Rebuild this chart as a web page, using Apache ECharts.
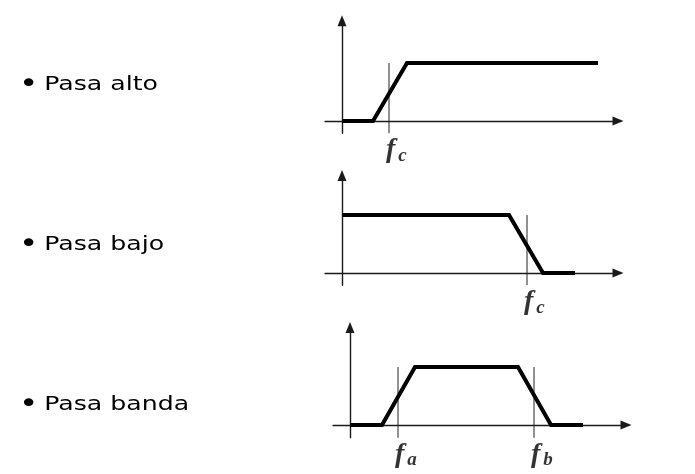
<!DOCTYPE html>
<html>
<head>
<meta charset="utf-8">
<script src="https://cdn.jsdelivr.net/npm/echarts@6/dist/echarts.min.js"></script>
<style>html,body{margin:0;padding:0;background:#fff}#c{width:695px;height:474px}</style>
</head>
<body>
<div id="c"></div>
<script>
// Filter names (left-hand bullet labels)
const filterNames = ['Pasa alto', 'Pasa bajo', 'Pasa banda'];

// High-pass response (x in frequency units, y normalized gain)
const hpX = [0, 3.1, 6.5, 25.6];
const hpY = [0, 0, 1, 1];
// Low-pass response
const lpX = [0, 16.7, 20.1, 23.3];
const lpY = [1, 1, 0, 0];
// Band-pass response
const bpX = [0, 3.2, 6.5, 16.8, 20.1, 23.3];
const bpY = [0, 0, 1, 1, 0, 0];

// Cut-off frequencies and their subscripts
const hpCut = [4.7];   const hpSub = ['c'];
const lpCut = [18.5];  const lpSub = ['c'];
const bpCut = [4.8, 18.4]; const bpSub = ['a', 'b'];

const xMin = -1.7, xMax = 27.6;
const yMins = [-0.21, -0.21, -0.22];
const yMaxs = [1.73, 1.68, 1.68];

const chart = echarts.init(document.getElementById('c'), null, {renderer: 'canvas'});

const grids = [
  {left: 325, top: 20.7, width: 293, height: 112.5},
  {left: 325, top: 175.6, width: 293, height: 109.6},
  {left: 333, top: 327.6, width: 293, height: 110.2}
];

const axisLine = {
  show: true, onZero: true,
  symbol: ['none', 'triangle'], symbolSize: [9, 11],
  lineStyle: {color: '#1a1a1a', width: 1.4}
};

const xAxes = grids.map((g, i) => ({
  type: 'value', gridIndex: i, min: xMin, max: xMax,
  axisLine: axisLine, axisTick: {show: false}, axisLabel: {show: false}, splitLine: {show: false}
}));
const yAxes = grids.map((g, i) => ({
  type: 'value', gridIndex: i, min: yMins[i], max: yMaxs[i],
  axisLine: axisLine, axisTick: {show: false}, axisLabel: {show: false}, splitLine: {show: false}
}));

const responses = [[hpX, hpY], [lpX, lpY], [bpX, bpY]];
const cuts = [[hpCut, hpSub], [lpCut, lpSub], [bpCut, bpSub]];

const series = [];
responses.forEach(([xs, ys], i) => {
  series.push({
    type: 'line', xAxisIndex: i, yAxisIndex: i, symbol: 'none', animation: false,
    lineStyle: {color: '#000', width: 4, join: 'miter'},
    data: xs.map((x, k) => [x, ys[k]]), z: 5
  });
});
cuts.forEach(([cs, subs], i) => {
  cs.forEach((c) => {
    series.push({
      type: 'line', xAxisIndex: i, yAxisIndex: i, symbol: 'none', animation: false,
      lineStyle: {color: '#222', width: 1},
      data: [[c, 1], [c, yMins[i]]], z: 3
    });
  });
  series.push({
    type: 'scatter', xAxisIndex: i, yAxisIndex: i, symbolSize: 0, animation: false,
    data: cs.map((c, k) => ({value: [c, yMins[i]], sub: subs[k]})),
    label: {
      show: true, position: [-3, 1], align: 'left', verticalAlign: 'top',
      formatter: (p) => '{f|f}{s|' + p.data.sub + '}',
      rich: {
        f: {fontFamily: 'Liberation Serif', fontStyle: 'italic', fontWeight: 'bold', fontSize: 28, color: '#000', padding: [0, 3, 0, 0]},
        s: {fontFamily: 'Liberation Serif', fontStyle: 'italic', fontWeight: 'bold', fontSize: 19, color: '#000', verticalAlign: 'bottom', padding: [12, 0, 0, 0]}
      }
    }
  });
});

const labelY = [85, 245, 405];
const graphic = filterNames.map((name, i) => ({
  type: 'text', x: 19, y: labelY[i], scaleX: 1.26,
  style: {
    text: '{b|\u2022}' + name, font: '20px "DejaVu Sans"', fill: '#000', textVerticalAlign: 'middle',
    rich: {b: {fontSize: 26, fontFamily: 'DejaVu Sans', fill: '#000', width: 20}}
  }
}));

chart.setOption({
  animation: false,
  grid: grids,
  xAxis: xAxes,
  yAxis: yAxes,
  series: series,
  graphic: graphic
});
</script>
</body>
</html>
